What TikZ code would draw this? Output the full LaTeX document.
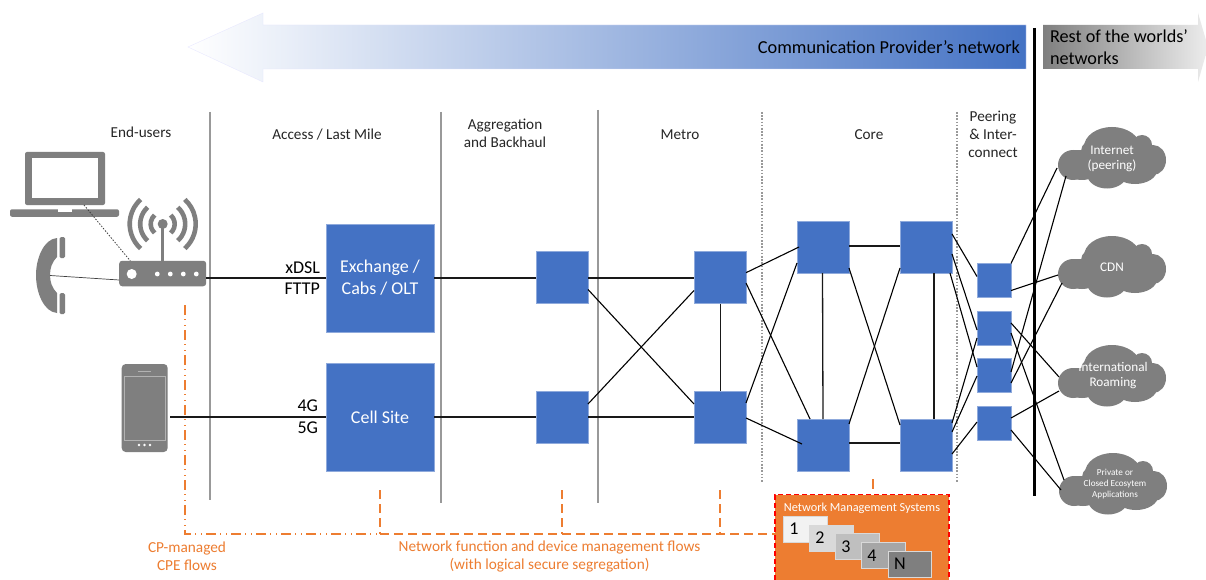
\documentclass[tikz,border=0pt]{standalone}
\usepackage{fontspec}
\setmainfont{Carlito}
\usetikzlibrary{calc}
\definecolor{bluebox}{HTML}{4472C4}
\definecolor{blueedge}{HTML}{8FAADC}
\definecolor{orangec}{HTML}{ED7D31}
\definecolor{iconc}{HTML}{7F7F7F}
\definecolor{divc}{HTML}{999999}
\definecolor{textc}{HTML}{262626}
\tikzset{
  every node/.style={inner sep=0pt,outer sep=0pt},
  box/.style={fill=bluebox,draw=blueedge,line width=0.6pt,minimum width=#1,minimum height=#1},
  widebox/.style={box=108pt,text=white,align=center,font=\fontsize{18}{22}\selectfont},
  midbox/.style={box=52pt},
  smallbox/.style={box=34pt},
  lab/.style={text=textc,align=center,font=\fontsize{15.2}{18.3}\selectfont},
  tag/.style={text=black,align=right,anchor=east,font=\fontsize{18}{21.5}\selectfont},
  flow/.style={text=orangec,align=center,font=\fontsize{15.3}{18}\selectfont},
  link/.style={draw=black,line width=1.1pt},
  straight link/.style={draw=black!90,line width=1.3pt},
  thin link/.style={draw=black!75,line width=0.9pt},
  divider/.style={draw=divc,line width=1.5pt},
  dotdiv/.style={draw=divc,line width=1.5pt,dash pattern=on 1.6pt off 1.6pt},
  mgmt/.style={draw=orangec,line width=1.5pt,dash pattern=on 9pt off 5pt},
  cpe/.style={draw=orangec,line width=1.5pt,dash pattern=on 10pt off 4pt on 1pt off 5pt on 1pt off 4pt},
  nms/.style={minimum width=43.5pt,minimum height=26pt,draw=white!70!gray,line width=0.5pt},
  nmsnum/.style={text=black,font=\fontsize{18}{18}\selectfont},
  cloudtxt/.style={text=white,align=center,minimum width=108pt,minimum height=62pt},
  cloudbig/.style={cloudtxt,font=\fontsize{13.2}{15.5}\selectfont},
  cloudsmall/.style={cloudtxt,font=\fontsize{9.2}{11}\selectfont},
}
\newcommand{\cloudshape}[2]{%
  \begin{scope}[shift={(#1,#2)}]
    \fill[iconc] (15,38) ellipse [x radius=15,y radius=15];
    \fill[iconc] (38,24) ellipse [x radius=15,y radius=12];
    \fill[iconc] (54,20) ellipse [x radius=28,y radius=20];
    \fill[iconc] (84,18) ellipse [x radius=10,y radius=10];
    \fill[iconc] (95,33) ellipse [x radius=13,y radius=15];
    \fill[iconc] (77,43) ellipse [x radius=22,y radius=14];
    \fill[iconc] (49,47) ellipse [x radius=20,y radius=14.5];
    \fill[iconc] (24,44) ellipse [x radius=15,y radius=9];
    \fill[iconc] (17,23) rectangle (92,45);
  \end{scope}}
\begin{document}
\begin{tikzpicture}[x=1pt,y=-1pt]
\clip (0,0) rectangle (1206,580);
\fill[white] (0,0) rectangle (1206,580);

% top arrows
\path[left color=white,right color=bluebox,draw=blue!10!white,line width=0.3pt]
  (188,47) -- (263,13) -- (263,25) -- (1026,25) -- (1026,69) -- (263,69) -- (263,82) -- cycle;
\path[left color=iconc,middle color=black!28,right color=black!7]
  (1043,25) -- (1198,25) -- (1198,13) -- (1208,47) -- (1198,82) -- (1198,69) -- (1043,69) -- cycle;
\node[text=black,anchor=east,font=\fontsize{18.3}{20}\selectfont] (cpn) at (1020,47.5) {Communication Provider’s network};
\node[text=black,anchor=west,align=left,font=\fontsize{18.2}{22}\selectfont] (row) at (1050,47) {Rest of the worlds’\\networks};

% dividers
\coordinate (d1t) at (210,112); \coordinate (d1b) at (210,500);
\coordinate (d2t) at (441,112); \coordinate (d2b) at (441,503);
\coordinate (d3t) at (598,110); \coordinate (d3b) at (598,503);
\coordinate (d4t) at (762,112); \coordinate (d4b) at (762,483);
\coordinate (d5t) at (957,112); \coordinate (d5b) at (957,483);
\coordinate (d6t) at (1034.5,28); \coordinate (d6b) at (1034.5,496);
\draw[divider] (d1t) -- (d1b);
\draw[divider] (d2t) -- (d2b);
\draw[divider] (d3t) -- (d3b);
\draw[dotdiv] (d4t) -- (d4b);
\draw[dotdiv] (d5t) -- (d5b);
\draw[black,line width=3pt] (d6t) -- (d6b);

% column labels
\node[lab] (l1) at (141,132) {End-users};
\node[lab] (l2) at (327,134.5) {Access / Last Mile};
\node[lab] (l3) at (505,133) {Aggregation\\and Backhaul};
\node[lab] (l4) at (680,134.5) {Metro};
\node[lab] (l5) at (869,134.5) {Core};
\node[lab] (l6) at (993,134.5) {Peering\\\& Inter-\\connect};

% boxes
\node[widebox] (EX) at (380,278) {Exchange /\\Cabs / OLT};
\node[widebox] (CS) at (380,417) {Cell Site};
\node[midbox] (A1) at (562,277.5) {};
\node[midbox] (A2) at (562,417) {};
\node[midbox] (M1) at (720,277.5) {};
\node[midbox] (M2) at (720,417) {};
\node[midbox] (C1) at (823,247) {};
\node[midbox] (C2) at (823,445) {};
\node[midbox] (C3) at (926,247) {};
\node[midbox] (C4) at (926,445) {};
\node[smallbox] (P1) at (994,280.5) {};
\node[smallbox] (P2) at (994,328) {};
\node[smallbox] (P3) at (994,375) {};
\node[smallbox] (P4) at (994,423) {};

% clouds
\cloudshape{1058}{127}
\cloudshape{1058}{236}
\cloudshape{1058}{345}
\cloudshape{1059}{453}
\node[cloudbig] (CI) at (1112,159) {Internet\\(peering)};
\node[cloudbig] (CD) at (1112,267) {CDN};
\node[cloudbig] (CR) at (1113,375.5) {International\\Roaming};
\node[cloudsmall] (CP) at (1115,484) {Private or\\Closed Ecosytem\\Applications};

% icons
\node[fill=iconc,rounded corners=3pt,minimum width=87pt,minimum height=25.5pt] (router) at (162.7,273.5) {};
\fill[white] (131.7,274) circle (5);
\foreach \dx in {157.3,170.3,183.3,196.3} \fill[white] (\dx,274) circle (2.4);
\draw[iconc,line width=3pt] (162.7,261) -- (162.7,224);
\fill[iconc] (162.7,224) circle (5);
\foreach \r in {12,22.5,33} {
  \draw[iconc,line width=4.6pt] (162.7,224) ++(132:\r) arc[start angle=132,end angle=228,radius=\r];
  \draw[iconc,line width=4.6pt] (162.7,224) ++(48:\r) arc[start angle=48,end angle=-48,radius=\r];
}
% laptop
\fill[iconc,rounded corners=2pt] (25,205) -- (25,152) -- (105,152) -- (105,205) -- cycle;
\fill[white] (31.5,158.5) rectangle (98,198);
\node[fill=iconc,rounded corners=2pt,minimum width=109pt,minimum height=7.5pt] (laptop) at (64.5,213) {};
\fill[white] (58,209.2) rectangle (72,212);
% handset
\fill[iconc] (57,238) .. controls (44,239) and (36,258) .. (36,275) .. controls (36,293) and (44,312) .. (57,313) -- (57,293) .. controls (52,288) and (50,282) .. (50,275) .. controls (50,268) and (52,262) .. (57,257) -- cycle;
\fill[iconc,rounded corners=1.5pt] (59.5,237) rectangle (65,258);
\fill[iconc,rounded corners=1.5pt] (59.5,293) rectangle (65,314);
\coordinate (handset) at (50,275.5);
\coordinate (lapfoot) at (84,205);
% mobile
\node[fill=iconc,rounded corners=4pt,minimum width=46pt,minimum height=88pt] (mobile) at (144.7,408) {};
\draw[black!30,line width=0.6pt] (124.3,376) rectangle (165,440.7);
\draw[black!30,line width=0.6pt] (138,371) -- (150.7,371);
\foreach \dx in {139,144.5,150} \fill[white] (\dx,445) circle (1.3);

% end-user links
\draw[thin link,line width=0.7pt] (handset) -- ($(router.west)+(0,6.5)$);
\draw[thin link,line width=0.8pt,dash pattern=on 1.5pt off 1.5pt] (lapfoot) -- ($(router.north west)+(11,0)$);
\draw[straight link] ($(router.east)+(0,4.5)$) -- (EX.west);
\draw[straight link] ($(mobile.east)+(2.5,9)$) -- (CS.west);
\node[tag] (t1) at (320,278) {xDSL\\FTTP};
\node[tag] (t2) at (318,416.5) {4G\\5G};

% network links
\draw[straight link] (EX.east) -- ($(A1.west)+(0,0.5)$);
\draw[straight link] (CS.east) -- (A2.west);
\draw[straight link] ($(A1.east)+(0,0.5)$) -- ($(M1.west)+(0,0.5)$);
\draw[straight link] (A2.east) -- (M2.west);
\draw[link] ($(A1.east)+(0,12)$) -- ($(M2.west)+(0,-13)$);
\draw[link] ($(A2.east)+(0,-13)$) -- ($(M1.west)+(0,13)$);
\draw[straight link] ($(M1.south)+(0.5,0)$) -- ($(M2.north)+(0.5,0)$);
\draw[link] ($(M1.east)+(0,-4.8)$) -- ($(C1.west)+(2,0)$);
\draw[link] ($(M1.east)+(0,5.5)$) -- ($(C2.north)+(-13,0)$);
\draw[link] ($(M2.east)+(0,-14)$) -- ($(C1.west)+(0,16)$);
\draw[link] ($(M2.east)+(0,1)$) -- ($(C2.west)+(5,-1)$);
\draw[straight link] ($(C1.east)+(0,-1)$) -- ($(C3.west)+(0,-1)$);
\draw[straight link] ($(C2.east)+(0,-2)$) -- ($(C4.west)+(0,-2)$);
\draw[straight link] ($(C1.south)+(-0.5,0)$) -- (C2.north);
\draw[straight link] ($(C3.south)+(8,0)$) -- ($(C4.north)+(8,0)$);
\draw[link] ($(C1.east)+(0,21)$) -- ($(C4.west)+(0,-20)$);
\draw[link] ($(C3.west)+(0,21)$) -- ($(C2.east)+(0,-21)$);
\draw[link] ($(C3.east)+(0,-13)$) -- ($(P1.west)+(0,-4)$);
\draw[link] ($(C3.east)+(0,7)$) -- ($(P2.west)+(0,2)$);
\draw[link] ($(C3.east)+(-2,26)$) -- ($(P3.west)+(0,-8)$);
\draw[link] ($(C4.east)+(0,-22)$) -- ($(P2.west)+(0,10)$);
\draw[link] ($(C4.east)+(0,-13)$) -- ($(P3.west)+(0,1)$);
\draw[link] ($(C4.east)+(0,9)$) -- ($(P4.west)+(0,-1)$);
\coordinate (ia) at (1057,168);
\coordinate (ib) at (1066,176);
\coordinate (da) at (1058,275);
\coordinate (db) at (1062,283);
\coordinate (ra) at (1059,377);
\coordinate (rb) at (1059,391);
\coordinate (pa) at (1064,480);
\coordinate (pb) at (1061,490);
\draw[link] ($(P1.east)+(0,-17)$) -- (ia);
\draw[link] ($(P1.east)+(0,10)$) -- (da);
\draw[link] ($(P3.east)+(0,-3)$) -- (ib);
\draw[link] ($(P3.east)+(0,8)$) -- (db);
\draw[link] ($(P2.east)+(0,-5)$) -- (ra);
\draw[link] ($(P2.east)+(0,5)$) -- (pa);
\draw[link] ($(P4.east)+(0,-5)$) -- (rb);
\draw[link] ($(P4.east)+(0,7)$) -- (pb);

% management box
\node[fill=orangec,draw=red,line width=1.2pt,dash pattern=on 5pt off 3pt,minimum width=174pt,minimum height=100pt,anchor=north west] (NMS) at (775,494.5) {};
\node[text=white,font=\fontsize{12.3}{14}\selectfont] (nmst) at (862,508) {Network Management Systems};
\node[nms,fill=black!5,anchor=north west] (n1) at (783.7,516.3) {};
\node[nms,fill=black!15,anchor=north west] (n2) at (809.7,525) {};
\node[nms,fill=black!25,anchor=north west] (n3) at (835.7,533.7) {};
\node[nms,fill=black!35,anchor=north west] (n4) at (861.7,542.3) {};
\node[nms,fill=iconc,anchor=north west] (n5) at (888,551.3) {};
\node[nmsnum] (n1t) at (794,529) {1};
\node[nmsnum] (n2t) at (820,538) {2};
\node[nmsnum] (n3t) at (846,547) {3};
\node[nmsnum] (n4t) at (872,556) {4};
\node[nmsnum] (n5t) at (900,564) {N};

% management flows
\coordinate (cpetop) at (185,305);
\coordinate (corner) at (185,534);
\coordinate (j1) at (380,534);
\coordinate (j2) at (562,534);
\coordinate (j3) at (720,534);
\coordinate (v1) at (380,490);
\coordinate (v2) at (562,490);
\coordinate (v3) at (720,490);
\coordinate (v4) at (873,479);
\coordinate (v4b) at (873,489);
\draw[cpe] (cpetop) -- (corner) -- (j1);
\draw[mgmt] (j1) -- (NMS.west |- j1);
\draw[mgmt] (v1) -- (j1);
\draw[mgmt] (v2) -- (j2);
\draw[mgmt] (v3) -- (j3);
\draw[orangec,line width=1.5pt] (v4) -- (v4b);
\node[flow] (f1) at (187,556) {CP-managed\\CPE flows};
\node[flow] (f2) at (549.5,556) {Network function and device management flows\\(with logical secure segregation)};
\end{tikzpicture}
\end{document}
